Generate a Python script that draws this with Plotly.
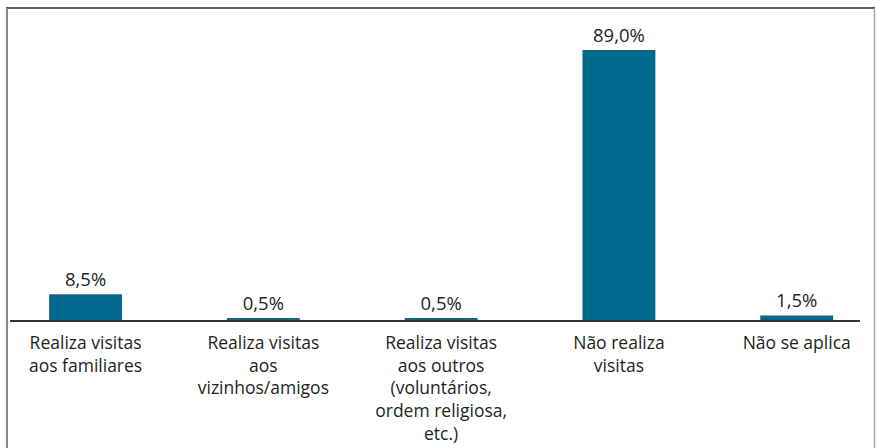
import plotly.graph_objects as go

categories = [
    "Realiza visitas<br>aos familiares",
    "Realiza visitas<br>aos<br>vizinhos/amigos",
    "Realiza visitas<br>aos outros<br>(voluntários,<br>ordem religiosa,<br>etc.)",
    "Não realiza<br>visitas",
    "Não se aplica",
]
values = [8.5, 0.5, 0.5, 89.0, 1.5]
value_labels = ["8,5%", "0,5%", "0,5%", "89,0%", "1,5%"]

W, H = 876, 448
L, R, T, B = 10, 860, 8, 320  # plot area in pixels

FONT = "Open Sans"
TXT = "#231f20"

fig = go.Figure(go.Bar(
    x=list(range(len(categories))),
    y=values,
    text=value_labels,
    textposition="outside",
    cliponaxis=False,
    textfont=dict(size=18.5, color=TXT, family=FONT),
    marker=dict(color="#006a8f", line=dict(width=0)),
    width=0.41,
))

fig.update_layout(
    width=W, height=H,
    margin=dict(l=L, r=W - R, t=T, b=H - B, autoexpand=False),
    paper_bgcolor="white", plot_bgcolor="white",
    showlegend=False,
    font=dict(family=FONT, color=TXT, size=17.5),
    xaxis=dict(
        tickmode="array",
        tickvals=list(range(len(categories))),
        ticktext=categories,
        range=[-0.425, 4.356],
        showline=True, linecolor="#333333", linewidth=1.5,
        showgrid=False, zeroline=False, ticks="",
        tickfont=dict(size=17.5, color=TXT, family=FONT),
        ticklabelstandoff=6,
        automargin=False,
        fixedrange=True,
    ),
    yaxis=dict(
        range=[0, (B - T) / 3.034],
        visible=False, showgrid=False, zeroline=False,
        automargin=False,
        fixedrange=True,
    ),
)

pw, ph = R - L, B - T
def px(x):
    return (x - L) / pw
def py(y):
    return (B - y) / ph

shapes = [
    dict(type="line", xref="paper", yref="paper", x0=px(6), x1=px(875), y0=py(8), y1=py(8),
         line=dict(color="#222222", width=1.5)),
    dict(type="line", xref="paper", yref="paper", x0=px(7), x1=px(7), y0=py(8), y1=py(460),
         line=dict(color="#888888", width=2)),
    dict(type="line", xref="paper", yref="paper", x0=px(874.5), x1=px(874.5), y0=py(8), y1=py(460),
         line=dict(color="#aaaaaa", width=1.5)),
]
fig.update_layout(shapes=shapes)

fig.write_html(
    "out.html",
    config={"displayModeBar": False},
    post_script="document.body.style.margin='0';document.body.style.overflow='hidden';",
)
